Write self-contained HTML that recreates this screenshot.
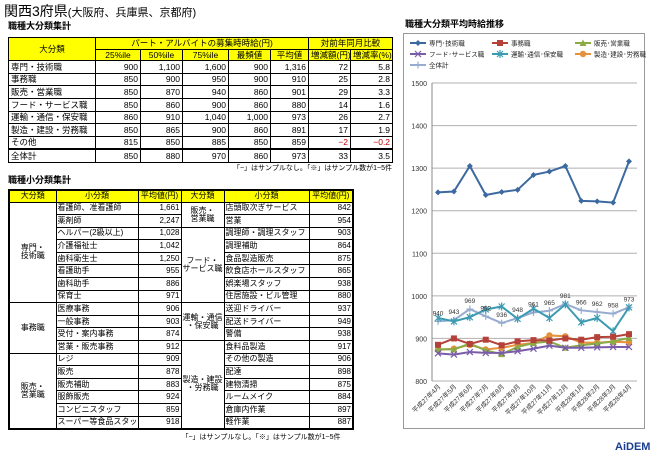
<!DOCTYPE html>
<html><head><meta charset="utf-8">
<style>
body{margin:0;width:650px;height:454px;background:#fff;font-family:"Liberation Sans","Noto Sans CJK JP",sans-serif;color:#000;position:relative;overflow:hidden}
.abs{position:absolute}
table{border-collapse:collapse;position:absolute;font-size:8.5px;line-height:1;table-layout:fixed}
td{border:1px solid #000;padding:0 2px;white-space:nowrap;overflow:hidden}
#t2{font-size:8px}
#t2 td{padding:0 1px}
td.n{text-align:right}
td.h{background:#ffff00;text-align:center}
td.c{text-align:center}
.red{color:#c00000}
</style></head><body>
<div class="abs" style="left:4px;top:1px;font-size:14px">関西3府県<span style="font-size:11px">(大阪府、兵庫県、京都府)</span></div>
<div class="abs" style="left:8px;top:19px;font-size:9px;font-weight:bold">職種大分類集計</div>
<table style="left:8px;top:37px;width:384px">
<colgroup><col style="width:87px"><col style="width:45px"><col style="width:42px"><col style="width:46px"><col style="width:42px"><col style="width:38px"><col style="width:42px"><col style="width:42px"></colgroup>
<tr style="height:11.5px"><td class="h" rowspan="2">大分類</td><td class="h" colspan="5">パート・アルバイトの募集時時給(円)</td><td class="h" colspan="2">対前年同月比較</td></tr>
<tr style="height:11.5px"><td class="h">25%ile</td><td class="h">50%ile</td><td class="h">75%ile</td><td class="h">最頻値</td><td class="h">平均値</td><td class="h">増減額(円)</td><td class="h">増減率(%)</td></tr>
<tr style="height:12.7px"><td>専門・技術職</td><td class="n">900</td><td class="n">1,100</td><td class="n">1,600</td><td class="n">900</td><td class="n">1,316</td><td class="n">72</td><td class="n">5.8</td></tr>
<tr style="height:12.7px"><td>事務職</td><td class="n">850</td><td class="n">900</td><td class="n">950</td><td class="n">900</td><td class="n">910</td><td class="n">25</td><td class="n">2.8</td></tr>
<tr style="height:12.7px"><td>販売・営業職</td><td class="n">850</td><td class="n">870</td><td class="n">940</td><td class="n">860</td><td class="n">901</td><td class="n">29</td><td class="n">3.3</td></tr>
<tr style="height:12.7px"><td>フード・サービス職</td><td class="n">850</td><td class="n">860</td><td class="n">900</td><td class="n">860</td><td class="n">880</td><td class="n">14</td><td class="n">1.6</td></tr>
<tr style="height:12.7px"><td>運輸・通信・保安職</td><td class="n">860</td><td class="n">910</td><td class="n">1,040</td><td class="n">1,000</td><td class="n">973</td><td class="n">26</td><td class="n">2.7</td></tr>
<tr style="height:12.7px"><td>製造・建設・労務職</td><td class="n">850</td><td class="n">865</td><td class="n">900</td><td class="n">860</td><td class="n">891</td><td class="n">17</td><td class="n">1.9</td></tr>
<tr style="height:12.7px"><td>その他</td><td class="n">815</td><td class="n">850</td><td class="n">885</td><td class="n">850</td><td class="n">859</td><td class="n red">−2</td><td class="n red">−0.2</td></tr>
<tr style="height:12.7px;border-top:2px solid #000"><td>全体計</td><td class="n">850</td><td class="n">880</td><td class="n">970</td><td class="n">860</td><td class="n">973</td><td class="n">33</td><td class="n">3.5</td></tr>
</table>
<div class="abs" style="left:192px;top:163px;width:200px;text-align:right;font-size:7px;white-space:nowrap">「−」はサンプルなし。「※」はサンプル数が1~5件</div>
<div class="abs" style="left:8px;top:173px;font-size:9px;font-weight:bold">職種小分類集計</div>
<table id="t2" style="left:8px;top:189px;width:344px;border:2px solid #000">
<colgroup><col style="width:47px"><col style="width:82px"><col style="width:43px"><col style="width:43px"><col style="width:85px"><col style="width:44px"></colgroup>
<tr style="height:12px"><td class="h">大分類</td><td class="h">小分類</td><td class="h">平均値(円)</td><td class="h">大分類</td><td class="h">小分類</td><td class="h">平均値(円)</td></tr>
<tr style="height:12.6px"><td class="c" rowspan="8">専門・<br>技術職</td><td>看護師、准看護師</td><td class="n">1,661</td><td class="c" rowspan="2">販売・<br>営業職</td><td>店頭取次ぎサービス</td><td class="n">842</td></tr>
<tr style="height:12.6px"><td>薬剤師</td><td class="n">2,247</td><td>営業</td><td class="n">954</td></tr>
<tr style="height:12.6px"><td>ヘルパー(2級以上)</td><td class="n">1,028</td><td class="c" rowspan="6">フード・<br>サービス職</td><td>調理師・調理スタッフ</td><td class="n">903</td></tr>
<tr style="height:12.6px"><td>介護福祉士</td><td class="n">1,042</td><td>調理補助</td><td class="n">864</td></tr>
<tr style="height:12.6px"><td>歯科衛生士</td><td class="n">1,250</td><td>食品製造販売</td><td class="n">875</td></tr>
<tr style="height:12.6px"><td>看護助手</td><td class="n">955</td><td>飲食店ホールスタッフ</td><td class="n">865</td></tr>
<tr style="height:12.6px"><td>歯科助手</td><td class="n">886</td><td>娯楽場スタッフ</td><td class="n">938</td></tr>
<tr style="height:12.6px"><td>保育士</td><td class="n">971</td><td>住居施設・ビル管理</td><td class="n">880</td></tr>
<tr style="height:12.6px"><td class="c" rowspan="4">事務職</td><td>医療事務</td><td class="n">906</td><td class="c" rowspan="3">運輸・通信<br>・保安職</td><td>送迎ドライバー</td><td class="n">937</td></tr>
<tr style="height:12.6px"><td>一般事務</td><td class="n">903</td><td>配送ドライバー</td><td class="n">949</td></tr>
<tr style="height:12.6px"><td>受付・案内事務</td><td class="n">874</td><td>警備</td><td class="n">938</td></tr>
<tr style="height:12.6px"><td>営業・販売事務</td><td class="n">912</td><td class="c" rowspan="7">製造・建設<br>・労務職</td><td>食料品製造</td><td class="n">917</td></tr>
<tr style="height:12.6px"><td class="c" rowspan="6">販売・<br>営業職</td><td>レジ</td><td class="n">909</td><td>その他の製造</td><td class="n">906</td></tr>
<tr style="height:12.6px"><td>販売</td><td class="n">878</td><td>配達</td><td class="n">898</td></tr>
<tr style="height:12.6px"><td>販売補助</td><td class="n">883</td><td>建物清掃</td><td class="n">875</td></tr>
<tr style="height:12.6px"><td>服飾販売</td><td class="n">924</td><td>ルームメイク</td><td class="n">884</td></tr>
<tr style="height:12.6px"><td>コンビニスタッフ</td><td class="n">859</td><td>倉庫内作業</td><td class="n">897</td></tr>
<tr style="height:12.6px"><td>スーパー等食品スタッフ</td><td class="n">918</td><td>軽作業</td><td class="n">887</td></tr>
</table>
<div class="abs" style="left:170px;top:432px;width:182px;text-align:center;font-size:7px;white-space:nowrap">「−」はサンプルなし。「※」はサンプル数が1~5件</div>

<div class="abs" style="left:405px;top:17px;font-size:9px;font-weight:bold">職種大分類平均時給推移</div>
<svg id="chart" class="abs" style="left:0;top:0" width="650" height="454"></svg>
<div class="abs" style="left:615px;top:441px;font-size:11px;font-weight:bold;color:#1a3f8f;font-family:'Liberation Sans',sans-serif">AiDEM</div>

<script>
const months=["平成27年4月","平成27年5月","平成27年6月","平成27年7月","平成27年8月","平成27年9月","平成27年10月","平成27年11月","平成27年12月","平成28年1月","平成28年2月","平成28年3月","平成28年4月"];
const seriesNames=["専門･技術職","事務職","販売･営業職","フード･サービス職","運輸･通信･保安職","製造･建設･労務職","全体計"];
const senmon=[1243,1245,1305,1237,1244,1249,1284,1292,1305,1223,1222,1219,1316];
const jimu=[885,900,887,897,884,893,896,895,900,897,903,904,910];
const hanbai=[875,874,888,872,863,880,889,893,878,884,888,893,901];
const food=[865,862,868,866,866,870,876,883,878,878,879,880,880];
const unyu=[948,940,950,968,975,946,970,948,980,938,948,917,973];
const seizo=[873,876,885,874,878,885,890,907,905,890,890,892,891];
const zentai=[940,943,969,952,936,948,961,965,981,966,962,958,973];
const yTicks=[800,900,1000,1100,1200,1300,1400,1500];

const svg=document.getElementById('chart');
const NS='http://www.w3.org/2000/svg';
function mk(t,a,p){const e=document.createElementNS(NS,t);for(const k in a)e.setAttribute(k,a[k]);(p||svg).appendChild(e);return e;}
const X0=438,X1=629,Y800=381,Y1500=83;
function xs(i){return X0+(X1-X0)*i/(months.length-1);}
function ys(v){return Y800-(v-800)*(Y800-Y1500)/700;}

let box=mk('rect',{x:403.5,y:33.5,width:241,height:395,fill:'#fff',stroke:'#999'});


yTicks.forEach((t,i)=>{
  const g=mk('line',{x1:432,x2:637,y1:ys(t),y2:ys(t),stroke:'#b0b0b0','stroke-width':1});
  
  
  const lab=mk('text',{x:427,y:ys(t)+3,'font-size':7,'text-anchor':'end',fill:'#333'});
  lab.textContent=String(t);
  
  
});
let ax=mk('line',{x1:432,x2:432,y1:Y1500,y2:Y800,stroke:'#888'});


months.forEach((m,i)=>{
  const t=mk('text',{x:xs(i)+3,y:Y800+6,'font-size':6.5,'text-anchor':'end',transform:`rotate(-45 ${xs(i)+3} ${Y800+6})`,fill:'#333'});
  t.textContent=m;
  
  
});
const data=[senmon,jimu,hanbai,food,unyu,seizo,zentai];
const colors=['#3c6aa0','#b5413b','#8aac45','#7a5ca8','#3c9bb3','#e6913c','#97acd0'];
const markers=['diamond','square','triangle','x','star','circle','plus'];
function marker(type,x,y,c,parent){
  let e;
  if(type==='diamond')e=mk('path',{d:`M${x} ${y-3}L${x+3} ${y}L${x} ${y+3}L${x-3} ${y}Z`,fill:c},parent);
  else if(type==='square')e=mk('rect',{x:x-3,y:y-3,width:6,height:6,fill:c},parent);
  else if(type==='triangle')e=mk('path',{d:`M${x} ${y-3.5}L${x+3.5} ${y+3}L${x-3.5} ${y+3}Z`,fill:c},parent);
  else if(type==='circle')e=mk('circle',{cx:x,cy:y,r:3.2,fill:c},parent);
  else if(type==='x')e=mk('path',{d:`M${x-3} ${y-3}L${x+3} ${y+3}M${x-3} ${y+3}L${x+3} ${y-3}`,stroke:c,'stroke-width':1.2},parent);
  else if(type==='star')e=mk('path',{d:`M${x-3} ${y-3}L${x+3} ${y+3}M${x-3} ${y+3}L${x+3} ${y-3}M${x} ${y-4}L${x} ${y+4}`,stroke:c,'stroke-width':1.2},parent);
  else e=mk('path',{d:`M${x-3.5} ${y}L${x+3.5} ${y}M${x} ${y-3.5}L${x} ${y+3.5}`,stroke:c,'stroke-width':1.2},parent);
  return e;
}
const order=[6,4,0,5,2,3,1];
order.forEach(s=>{
  const g=mk('g',{});
  
  
  const pts=data[s].map((v,i)=>xs(i)+','+ys(v)).join(' ');
  const pl=mk('polyline',{points:pts,fill:'none',stroke:colors[s],'stroke-width':2},g);
  
  
  data[s].forEach((v,i)=>{
    const m=marker(markers[s],xs(i),ys(v),colors[s],g);
    
    
  });
});
zentai.forEach((v,i)=>{
  const t=mk('text',{x:xs(i),y:ys(v)-6,'font-size':6.5,'text-anchor':'middle',fill:'#333'});
  t.textContent=v;
  
  
});
const lp=[[410,43],[492,43],[575,43],[410,54],[492,54],[575,54],[410,65]];
seriesNames.forEach((n,s)=>{
  const g=mk('g',{});
  
  
  const [x,y]=lp[s];
  mk('line',{x1:x,x2:x+16,y1:y,y2:y,stroke:colors[s],'stroke-width':2},g);
  marker(markers[s],x+8,y,colors[s],g);
  const t=mk('text',{x:x+19,y:y+2.5,'font-size':6.5,fill:'#222'},g);
  t.textContent=n;
});
</script>
</body></html>
